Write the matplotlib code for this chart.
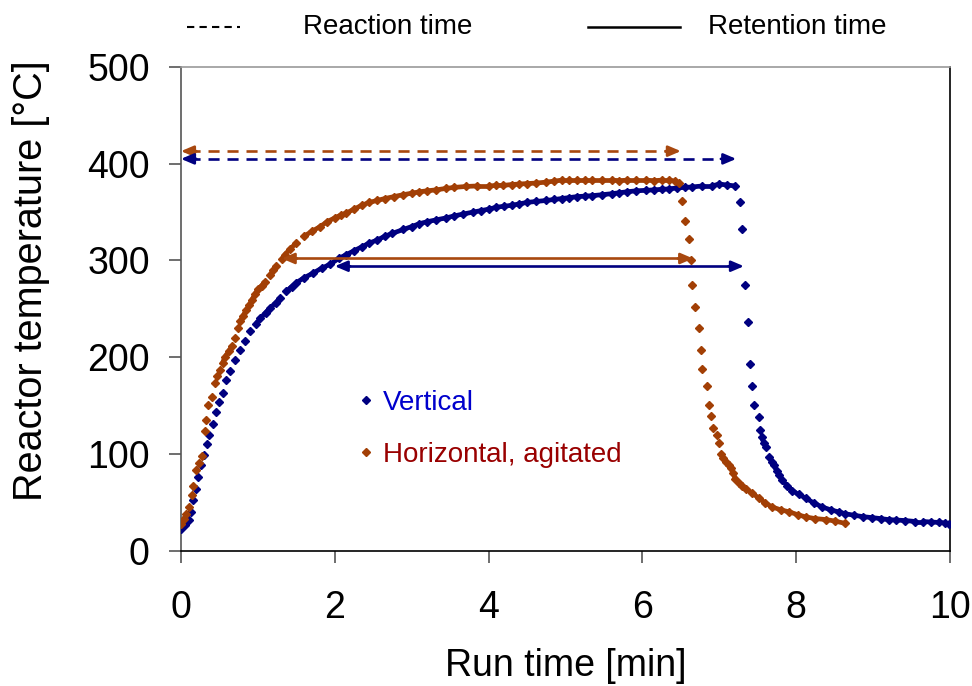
import numpy as np
import matplotlib
matplotlib.use("Agg")
import matplotlib.pyplot as plt
from matplotlib.lines import Line2D
from matplotlib.collections import LineCollection

plt.rcParams['font.family'] = ['Liberation Sans', 'DejaVu Sans']

# vertical reactor (run time [min], temperature [C])
vert_t = [0.00, 0.05, 0.10, 0.13, 0.16, 0.19, 0.22, 0.26, 0.30, 0.34, 0.37, 0.42, 0.46, 0.50,
          0.55, 0.59, 0.64, 0.70, 0.77, 0.83, 0.90, 0.97, 1.03, 1.10, 1.16, 1.23, 1.29, 1.37,
          1.44, 1.50, 1.60, 1.72, 1.83, 1.94, 2.05, 2.15, 2.25, 2.35, 2.45, 2.55, 2.65, 2.75,
          2.89, 3.00, 3.10, 3.20, 3.32, 3.45, 3.55, 3.67, 3.80, 3.90, 4.00, 4.10, 4.20, 4.30,
          4.40, 4.50, 4.62, 4.75, 4.85, 4.95, 5.05, 5.15, 5.25, 5.35, 5.48, 5.60, 5.70, 5.80,
          5.92, 6.05, 6.15, 6.25, 6.35, 6.45, 6.55, 6.65, 6.78, 6.90, 7.00, 7.10, 7.21,
          7.27, 7.30, 7.33, 7.37, 7.40, 7.43, 7.45, 7.51, 7.53, 7.55, 7.58, 7.61, 7.65, 7.68,
          7.71, 7.75, 7.78, 7.82, 7.88, 7.95, 8.03, 8.13, 8.23, 8.34, 8.45, 8.55, 8.64, 8.75,
          8.87, 8.99, 9.10, 9.20, 9.30, 9.42, 9.55, 9.65, 9.75, 9.86, 9.93, 9.99]
vert_T = [22, 26, 32, 40, 52, 64, 76, 88, 99, 110, 119, 131, 143, 154,
          163, 176, 186, 197, 207, 217, 227, 234, 240, 246, 251, 256, 261, 268,
          273, 277, 282, 287, 292, 296, 302, 306, 310, 314, 318, 321, 325, 328,
          332, 335, 338, 340, 342, 344, 346, 348, 350, 351.5, 353, 355, 356, 357,
          358.5, 360, 361, 362, 363, 364, 365, 366, 366.5, 367, 368, 369, 370, 371,
          372, 372.5, 373, 373.5, 374, 375, 375.5, 376, 377, 377, 379, 378, 377,
          360, 333, 275, 236, 193, 170, 151, 138, 125, 117, 111, 107, 97, 92,
          88, 82, 78, 73, 67, 62, 58, 54, 49, 45, 42, 40, 38, 36.5,
          35, 34, 33, 32, 31.5, 31, 30, 30, 29.5, 29, 28.5, 27]

# horizontal, agitated reactor
horz_t = [0.00, 0.04, 0.07, 0.10, 0.14, 0.16, 0.20, 0.23, 0.27, 0.31, 0.33, 0.35, 0.40, 0.44,
          0.47, 0.51, 0.54, 0.57, 0.62, 0.66, 0.70, 0.74, 0.77, 0.81, 0.85, 0.89, 0.92, 0.96,
          1.00, 1.05, 1.09, 1.16, 1.20, 1.24, 1.31, 1.35, 1.42, 1.50, 1.60, 1.70, 1.81, 1.90,
          2.00, 2.08, 2.15, 2.25, 2.35, 2.45, 2.55, 2.65, 2.77, 2.89, 3.00, 3.10, 3.20, 3.32,
          3.45, 3.55, 3.71, 3.85, 4.00, 4.10, 4.19, 4.30, 4.40, 4.50, 4.62, 4.75, 4.85, 4.95,
          5.05, 5.15, 5.25, 5.35, 5.48, 5.60, 5.70, 5.80, 5.92, 6.05, 6.15, 6.25, 6.35, 6.42,
          6.48, 6.52, 6.55, 6.61, 6.63, 6.65, 6.68, 6.73, 6.76, 6.78, 6.84, 6.86, 6.89, 6.92,
          6.97, 6.99, 7.02, 7.05, 7.09, 7.12, 7.15, 7.18, 7.21, 7.26, 7.30, 7.35, 7.43, 7.52,
          7.60, 7.69, 7.80, 7.91, 8.02, 8.13, 8.25, 8.39, 8.50, 8.64]
horz_T = [27, 33, 38, 45, 57, 67, 83, 90, 98, 124, 135, 150, 159, 173,
          180, 187, 194, 200, 206, 211, 220, 230, 237, 243, 249, 254, 259, 265,
          270, 274, 278, 285, 290, 294, 301, 306, 312, 318, 325, 330, 335, 340,
          344, 347, 349, 353, 357, 360, 362, 364, 366, 368, 369.5, 371, 372, 373,
          374.5, 375.5, 376.5, 377, 377, 377.5, 377.6, 378.5, 379, 379.5, 380, 381, 382, 383,
          383, 383, 383, 383, 383, 383, 382.5, 383, 383, 383, 382.5, 383, 383, 382,
          380, 361, 341, 322, 300, 275, 252, 230, 207, 188, 170, 151, 139, 127,
          119, 111, 100, 96, 92, 88, 85, 80, 74, 70, 67, 64, 59, 54,
          49, 45, 42, 40, 37, 34.6, 33, 32, 30.5, 28]

# arrows: (start, end, temperature)
vert_reaction = (0.0, 7.22, 405)
horz_reaction = (0.0, 6.50, 413)
vert_retention = (2.0, 7.32, 294)
horz_retention = (1.31, 6.66, 302)

blue = '#000080'
brown = '#A23F05'
arrow_brown = '#A8480F'

fig = plt.figure(figsize=(9.72, 6.86), dpi=100)
ax = fig.add_axes([0.1862, 0.1975, 0.7912, 0.7048])


def draw_series(t, T, color):
    t = np.asarray(t)
    T = np.asarray(T)
    pts = np.column_stack([t, T])
    segs = []
    for i in range(len(t) - 1):
        if t[i + 1] - t[i] <= 0.17 and abs(T[i + 1] - T[i]) <= 6.5:
            segs.append([pts[i], pts[i + 1]])
    ax.add_collection(LineCollection(segs, colors=color, linewidths=3.4, zorder=3))
    ax.plot(t, T, linestyle='none', marker='D', ms=4.5, color=color, mec=color, zorder=3)


draw_series(vert_t, vert_T, blue)
draw_series(horz_t, horz_T, brown)


def draw_arrow(span, color, dashed):
    x0, x1, y = span
    if dashed:
        ax.plot([x0 + 0.1, x1 - 0.1], [y, y], color=color, lw=1.9, dashes=(4.2, 3.0), zorder=4)
    else:
        ax.plot([x0 + 0.1, x1 - 0.1], [y, y], color=color, lw=1.9, zorder=4)
    for a, b in ((x0 + 0.2, x0), (x1 - 0.2, x1)):
        ax.annotate('', xy=(b, y), xytext=(a, y),
                    arrowprops=dict(arrowstyle='-|>,head_length=0.75,head_width=0.32',
                                    color=color, lw=1.9, shrinkA=0, shrinkB=0),
                    zorder=5)


draw_arrow(horz_reaction, arrow_brown, True)
draw_arrow(vert_reaction, blue, True)
draw_arrow(horz_retention, arrow_brown, False)
draw_arrow(vert_retention, blue, False)

ax.set_xlim(0, 10)
ax.set_ylim(0, 500)
ax.set_xticks([0, 2, 4, 6, 8, 10])
ax.set_yticks([0, 100, 200, 300, 400, 500])
ax.tick_params(axis='x', direction='out', length=8.5, width=1.2, color='#555555',
               labelsize=27, pad=20)
ax.tick_params(axis='y', direction='out', length=8.5, width=1.2, color='#555555',
               labelsize=27, pad=14)
ax.spines['left'].set_color('#555555')
ax.spines['bottom'].set_color('black')
ax.spines['top'].set_color('#999999')
ax.spines['right'].set_color('black')
for s in ax.spines.values():
    s.set_linewidth(1.2)

ax.set_xlabel('Run time [min]', fontsize=27, labelpad=16)
ax.set_ylabel('Reactor temperature [\u00b0C]', fontsize=28.5)
ax.yaxis.set_label_coords(-0.17, 0.559)

handles = [Line2D([], [], linestyle='none', marker='D', ms=4.2, color=blue),
           Line2D([], [], linestyle='none', marker='D', ms=4.2, color=brown)]
leg = ax.legend(handles, ['Vertical', 'Horizontal, agitated'], loc='center left',
                bbox_to_anchor=(0.232, 0.252), frameon=False, fontsize=20,
                handlelength=0.5, handletextpad=0.35, labelspacing=0.93,
                borderpad=0, borderaxespad=0, labelcolor=['#0000CC', '#990000'])

# top key for arrow styles
fig.add_artist(Line2D([187 / 972, 240 / 972], [1 - 27 / 686] * 2, color='black',
                      lw=1.5, dashes=(3.5, 2.5)))
fig.add_artist(Line2D([588 / 972, 680 / 972], [1 - 27 / 686] * 2, color='black', lw=1.8))
fig.text(303 / 972, 1 - 27 / 686, 'Reaction time', fontsize=20, va='center')
fig.text(708 / 972, 1 - 27 / 686, 'Retention time', fontsize=20, va='center')

fig.savefig('out.png', dpi=100)
